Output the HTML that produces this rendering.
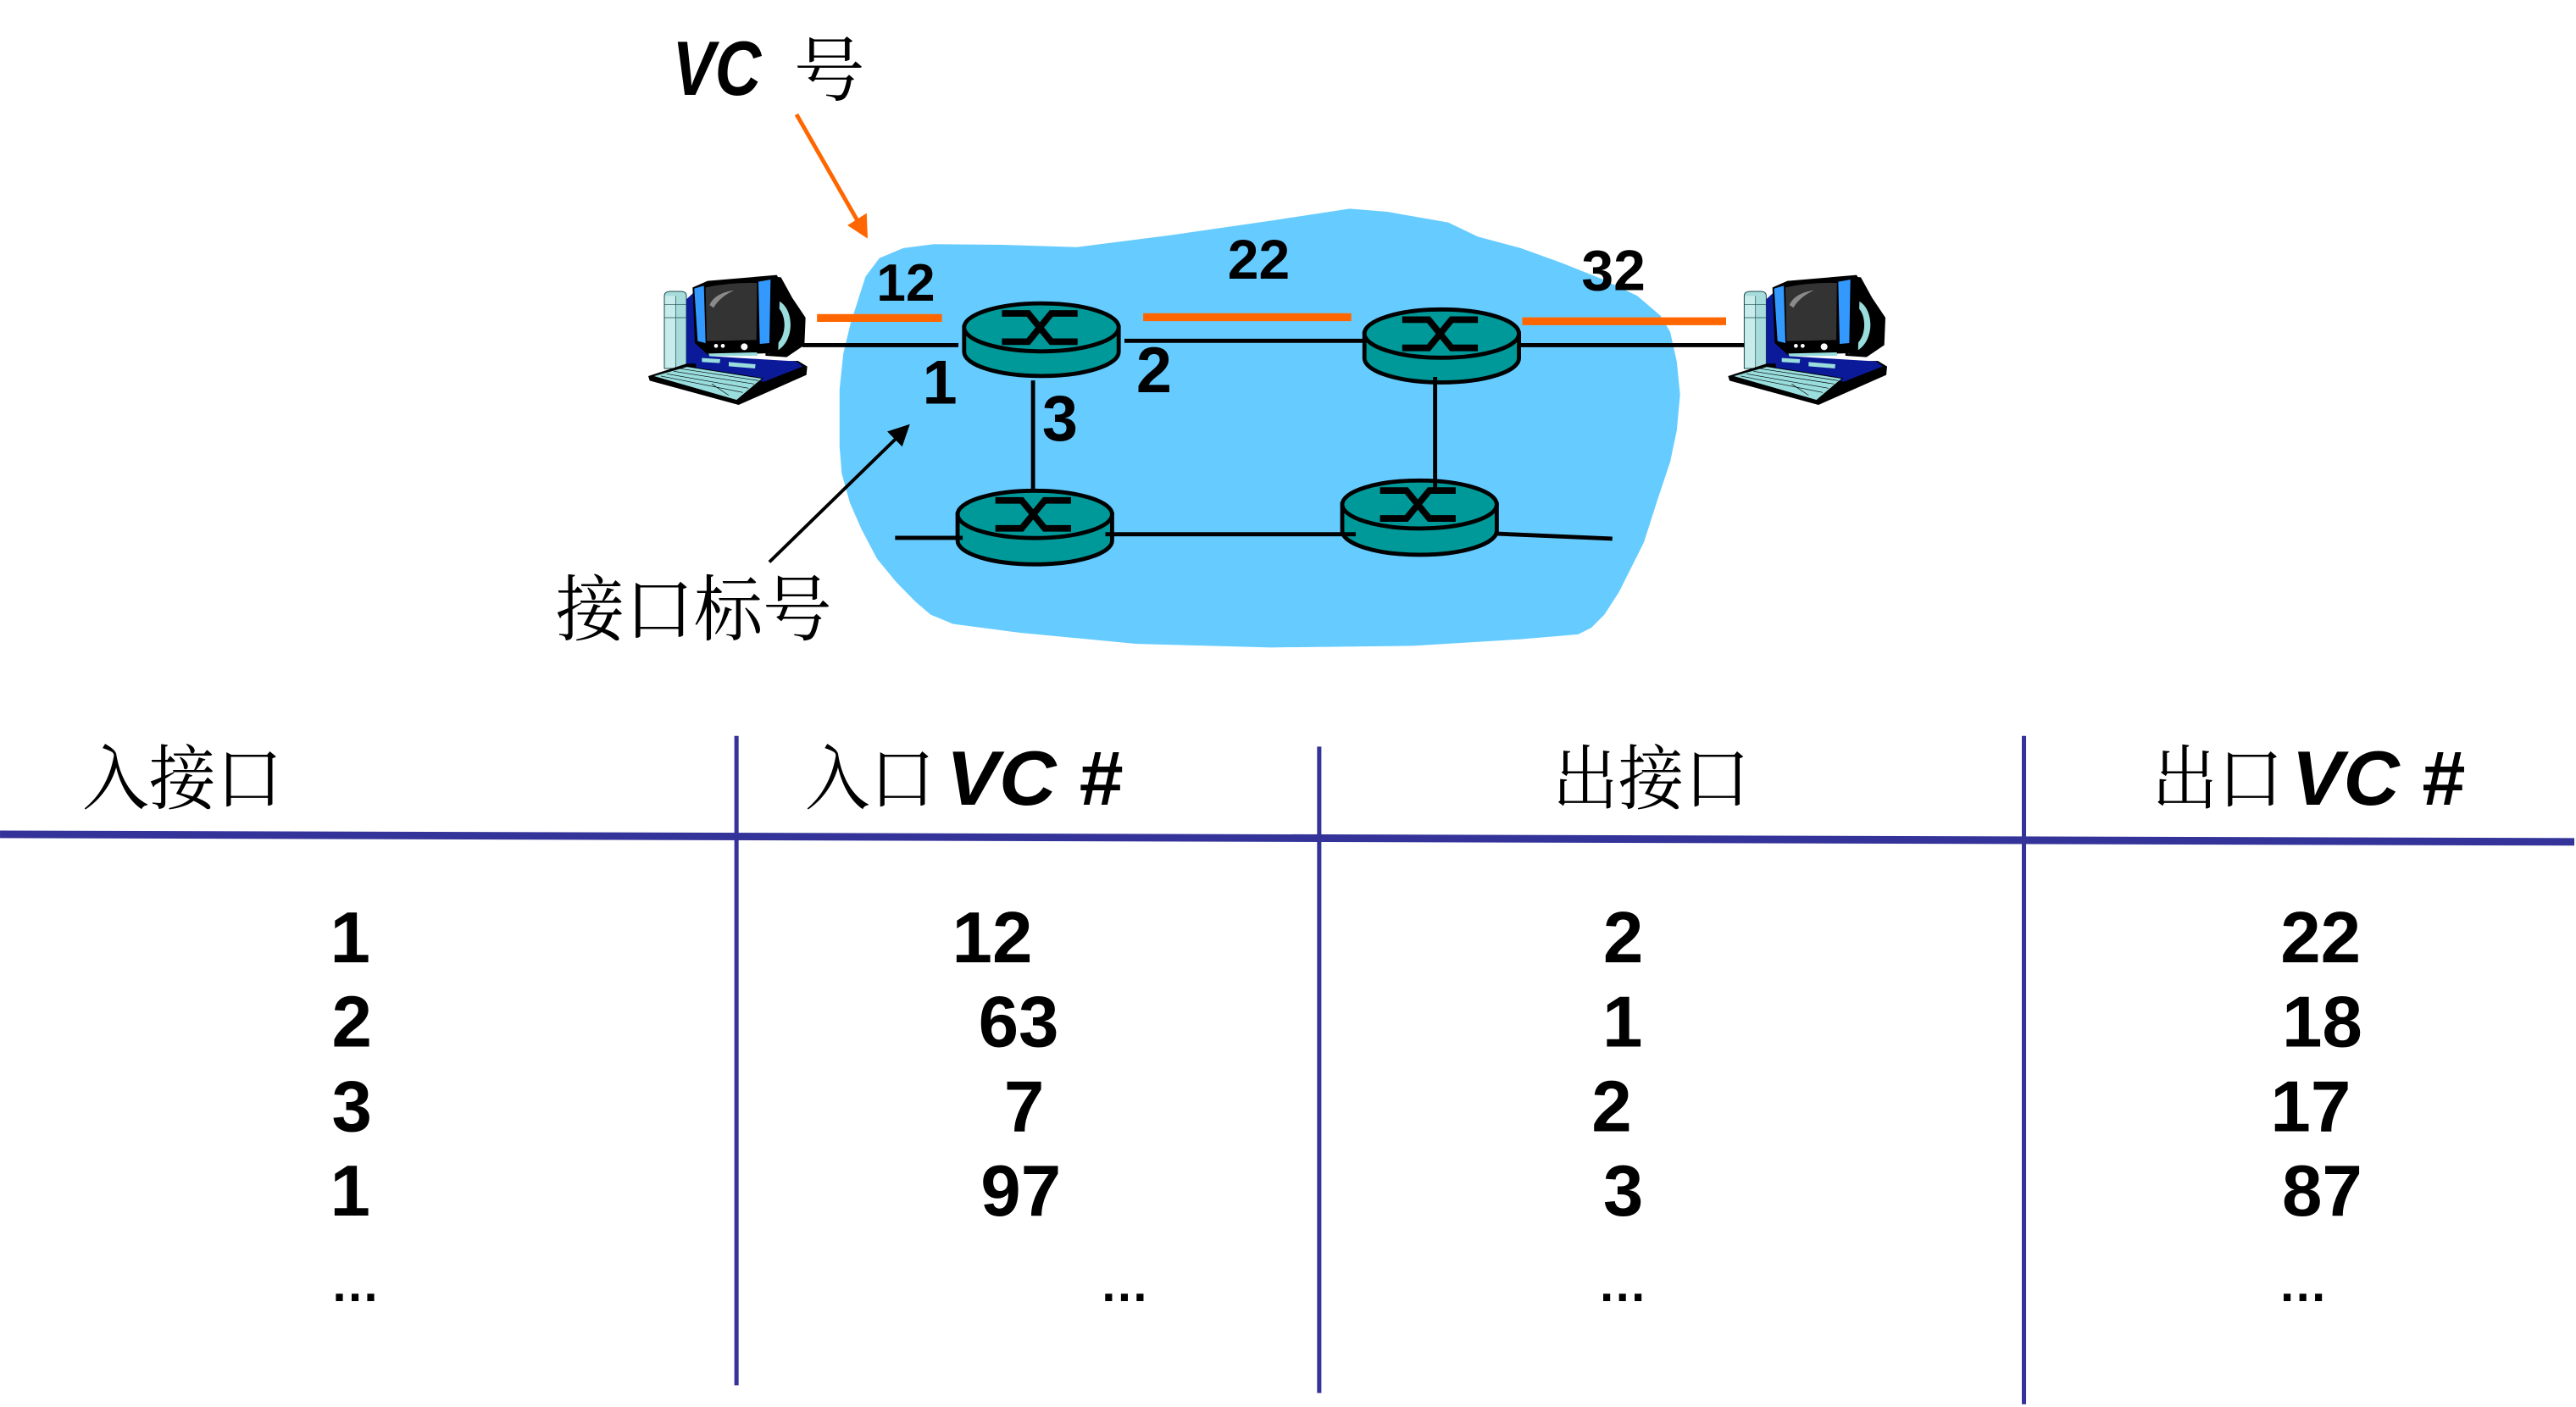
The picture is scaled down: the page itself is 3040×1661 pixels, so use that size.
<!DOCTYPE html>
<html>
<head>
<meta charset="utf-8">
<style>
  html,body{margin:0;padding:0;background:#fff;}
  svg{display:block;}
  .num{font-family:"Liberation Sans",sans-serif;font-weight:bold;fill:#000;}
  .cjk{font-family:"Liberation Serif","Noto Serif CJK SC",serif;fill:#000;}
  .vc{font-family:"Liberation Sans",sans-serif;font-weight:bold;font-style:italic;fill:#000;}
</style>
</head>
<body>
<svg width="3040" height="1661" viewBox="0 0 1567 856.2" xmlns="http://www.w3.org/2000/svg">
  <defs>
    <g id="pc">
      <path d="M72,88 Q72,72 95,72 L130,72 Q150,72 150,88 L150,345 L72,345 Z" fill="#A8DCDC" stroke="#1a4d4d" stroke-width="3"/>
      <rect x="74" y="88" width="38" height="255" fill="#C8ECEC"/>
      <path d="M72,118 H150 M72,165 H150 M112,88 V345" stroke="#1a4d4d" stroke-width="2" fill="none"/>
      <path d="M150,100 L182,70 L238,290 L238,345 L150,345 Z" fill="#0a1a99"/>
      <path d="M15,372 L150,328 L545,318 L578,338 L575,368 L335,474 L20,388 Z" fill="#000"/>
      <path d="M180,298 L540,320 L562,338 L425,392 L185,345 Z" fill="#0a1a99"/>
      <path d="M205,308 L270,312 L268,326 L205,322 Z M300,322 L395,330 L393,345 L300,337 Z" fill="#99DDDD"/>
      <path d="M30,372 L152,338 L420,380 L328,458 Z" fill="#99DDDD" stroke="#000" stroke-width="3"/>
      <path d="M60,372 L350,430 M80,364 L370,415 M105,355 L390,400 M130,346 L405,388 M240,400 L300,440" stroke="#000" stroke-width="2" fill="none"/>
      <path d="M440,18 L485,22 L525,95 L572,165 L568,262 L505,305 L430,300 Z" fill="#000"/>
      <path d="M455,100 C540,105 545,280 440,292 L440,272 C515,262 512,128 455,120 Z" fill="#99DDDD"/>
      <path d="M172,58 L225,35 L470,14 L482,35 L475,290 L228,298 L180,255 Z" fill="#000"/>
      <path d="M178,62 L212,52 L218,255 L190,248 Z" fill="#3399FF"/>
      <path d="M405,38 L448,30 L444,255 L410,258 Z" fill="#3399FF"/>
      <path d="M218,58 Q300,40 400,42 L398,244 L222,248 Z" fill="#333"/>
      <path d="M232,120 Q250,78 320,68 Q270,90 246,130 Z" fill="#8a8a8a"/>
      <path d="M228,292 L400,288 L402,300 L232,302 Z" fill="#99DDDD"/>
      <circle cx="255" cy="265" r="7" fill="#fff"/>
      <circle cx="279" cy="265" r="7" fill="#fff"/>
      <circle cx="355" cy="268" r="12" fill="#fff"/>
    </g>
  </defs>

  <path d="M549.5,151 L568,148.6 L610,149 L655,150.4 L710.6,143.3 L775,134 L821,127 L844,128.9 L881,135.4 L899,144 L925,151 L950,160 L975,170 L996,180 L1010,192 L1016,202 L1020,220 L1022,240 L1020,262 L1016,281 L1008,305 L1000,330 L985,360 L976,374 L968,382 L960,386 L925,389 L860,393 L773,394 L691.5,391.8 L620,385 L579.8,379.7 L566,374 L556.7,366 L545,354 L533.5,340 L524,322 L517,306 L512,288 L510.7,271.6 L510.7,237 L513,215 L517.3,197.2 L526.5,168.3 L535,157 Z" fill="#66CCFF"/>

  <use href="#pc" transform="translate(391.75,164.95) scale(0.1718)"/>
  <use href="#pc" transform="translate(1048.65,164.95) scale(0.1718)"/>

  <g fill="#009999" stroke="#000" stroke-width="2.5">
    <path d="M586.5,199.2 L586.5,214.2 A47,14.6 0 0 0 680.5,214.2 L680.5,199.2 Z"/>
    <ellipse cx="633.5" cy="199.2" rx="47" ry="14.6"/>
    <path d="M830,203 L830,218 A47,14.7 0 0 0 924,218 L924,203 Z"/>
    <ellipse cx="877" cy="203" rx="47" ry="14.7"/>
    <path d="M582.5,313 L582.5,329 A47,14.4 0 0 0 676.5,329 L676.5,313 Z"/>
    <ellipse cx="629.5" cy="313" rx="47" ry="14.4"/>
    <path d="M816.5,307 L816.5,323 A47,14.6 0 0 0 910.5,323 L910.5,307 Z"/>
    <ellipse cx="863.5" cy="307" rx="47" ry="14.6"/>
  </g>
  <g fill="none" stroke="#000" stroke-width="4" stroke-linejoin="miter">
    <path d="M609.5,190.7 H625.5 L639.5,207.9 H655.5 M655.5,190.7 H639.5 L625.5,207.9 H609.5"/>
    <path d="M853,194.5 H869 L883,211.7 H899 M899,194.5 H883 L869,211.7 H853"/>
    <path d="M605.5,304.5 H621.5 L635.5,321.5 H651.5 M651.5,304.5 H635.5 L621.5,321.5 H605.5"/>
    <path d="M839.5,298.5 H855.5 L869.5,315.5 H885.5 M885.5,298.5 H869.5 L855.5,315.5 H839.5"/>
  </g>

  <g stroke="#000" stroke-width="2.5" fill="none">
    <line x1="488" y1="210" x2="583" y2="210"/>
    <line x1="684" y1="207.4" x2="830.5" y2="207.4"/>
    <line x1="923.6" y1="210" x2="1061" y2="210"/>
    <line x1="628.4" y1="231.5" x2="628.4" y2="298.5"/>
    <line x1="873" y1="229.4" x2="873" y2="297.3"/>
    <line x1="544.5" y1="327.3" x2="585.6" y2="327.3"/>
    <line x1="672.4" y1="325.1" x2="824.7" y2="325.1"/>
    <line x1="911" y1="324.8" x2="980.8" y2="327.8"/>
  </g>

  <g stroke="#FF6600" stroke-width="4.8">
    <line x1="497" y1="193.5" x2="573" y2="193.5"/>
    <line x1="695.4" y1="193" x2="822" y2="193"/>
    <line x1="926" y1="195.5" x2="1050" y2="195.5"/>
  </g>

  <line x1="484.5" y1="69.6" x2="522" y2="135" stroke="#FF6600" stroke-width="2.5"/>
  <polygon points="527.8,145.2 515.5,137.1 527.2,129.7" fill="#FF6600"/>

  <line x1="468" y1="342" x2="548" y2="264" stroke="#000" stroke-width="2"/>
  <polygon points="553.5,258.1 539.7,262.6 548.8,271.8" fill="#000"/>

  <text class="vc" x="409" y="57.8" font-size="47" textLength="54" lengthAdjust="spacingAndGlyphs">VC</text>
  <text class="cjk" x="483" y="58" font-size="43">号</text>
  <text class="cjk" x="338" y="386.4" font-size="44" textLength="168" lengthAdjust="spacingAndGlyphs">接口标号</text>

  <text class="num" x="551" y="183" font-size="32" text-anchor="middle">12</text>
  <text class="num" x="765.7" y="169.6" font-size="34" text-anchor="middle">22</text>
  <text class="num" x="981.5" y="176.5" font-size="35" text-anchor="middle">32</text>
  <text class="num" x="571.7" y="245.7" font-size="38" text-anchor="middle">1</text>
  <text class="num" x="702" y="238.8" font-size="39" text-anchor="middle">2</text>
  <text class="num" x="644.8" y="268" font-size="39" text-anchor="middle">3</text>

  <line x1="0" y1="507.7" x2="1566" y2="512.3" stroke="#333399" stroke-width="4.6"/>
  <g stroke="#333399" stroke-width="2.6">
    <line x1="448" y1="447.8" x2="448" y2="843"/>
    <line x1="802.5" y1="454.3" x2="802.5" y2="847.7"/>
    <line x1="1231.2" y1="447.8" x2="1231.2" y2="854.5"/>
  </g>

  <text class="cjk" x="50" y="489" font-size="43" textLength="122" lengthAdjust="spacingAndGlyphs">入接口</text>
  <text class="cjk" x="489.7" y="489" font-size="43" textLength="79" lengthAdjust="spacingAndGlyphs">入口</text>
  <text class="vc" x="575.6" y="489.7" font-size="47" textLength="107" lengthAdjust="spacingAndGlyphs">VC #</text>
  <text class="cjk" x="944.4" y="489" font-size="43" textLength="120" lengthAdjust="spacingAndGlyphs">出接口</text>
  <text class="cjk" x="1309" y="489" font-size="43" textLength="80" lengthAdjust="spacingAndGlyphs">出口</text>
  <text class="vc" x="1394" y="489.7" font-size="47" textLength="105" lengthAdjust="spacingAndGlyphs">VC #</text>

  <g class="num" font-size="44" text-anchor="middle">
    <text x="213" y="585.6">1</text>
    <text x="214" y="637">2</text>
    <text x="214" y="688.4">3</text>
    <text x="213" y="739.7">1</text>

    <text x="603.6" y="585.6">12</text>
    <text x="619.6" y="637">63</text>
    <text x="623" y="688.4">7</text>
    <text x="621" y="739.7">97</text>

    <text x="987.4" y="585.6">2</text>
    <text x="987" y="637">1</text>
    <text x="980.4" y="688.4">2</text>
    <text x="987.4" y="739.7">3</text>

    <text x="1411.7" y="585.6">22</text>
    <text x="1412.6" y="637">18</text>
    <text x="1405.6" y="688.4">17</text>
    <text x="1412.6" y="739.7">87</text>
  </g>
  <g class="num" font-size="30" text-anchor="middle">
    <text x="216" y="791.7">…</text>
    <text x="684" y="791.7">…</text>
    <text x="987" y="791.7">…</text>
    <text x="1400.9" y="791.7">…</text>
  </g>
</svg>
</body>
</html>
